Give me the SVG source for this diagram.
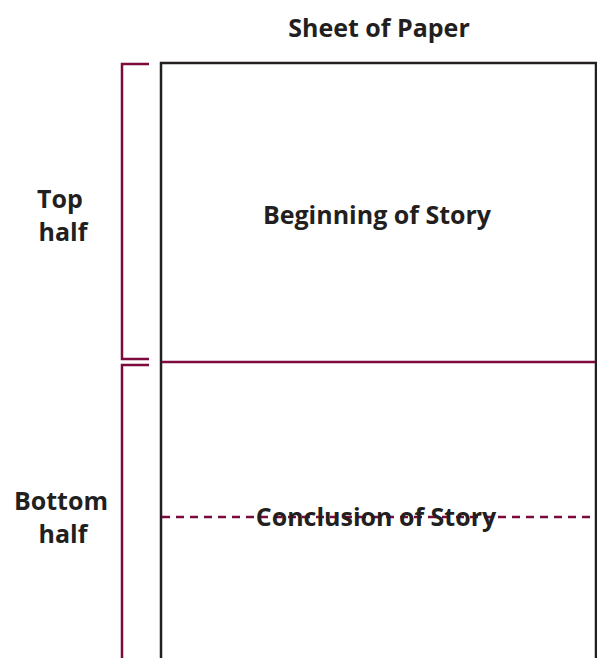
<svg xmlns="http://www.w3.org/2000/svg" width="597" height="658" viewBox="0 0 597 658">
<style>
.t{font-family:"Open Sans","DejaVu Sans",sans-serif;font-weight:bold;font-size:25px;fill:#231f20;text-anchor:middle}
.m{stroke:#7d0a3c;stroke-width:2.5;fill:none}
.k{stroke:#231f20;stroke-width:2.5;fill:none}
</style>
<rect width="597" height="658" fill="#fff"/>
<g id="paper">
<path class="k" d="M161 658V63H596V658"/>
<line class="m" x1="162" y1="362" x2="595" y2="362"/>
<line class="m" x1="162" y1="517" x2="595" y2="517" stroke-dasharray="8 6"/>
</g>
<g id="brackets">
<path class="m" d="M149 64H122V359H149"/>
<path class="m" d="M149 365H122V658"/>
</g>
<g id="labels">
<text class="t" x="379" y="37">Sheet of Paper</text>
<text class="t" x="377" y="224">Beginning of Story</text>
<text class="t" x="376" y="526">Conclusion of Story</text>
<text class="t" x="60" y="208">Top</text>
<text class="t" x="63" y="241">half</text>
<text class="t" x="61" y="510">Bottom</text>
<text class="t" x="63" y="543">half</text>
</g>
</svg>
